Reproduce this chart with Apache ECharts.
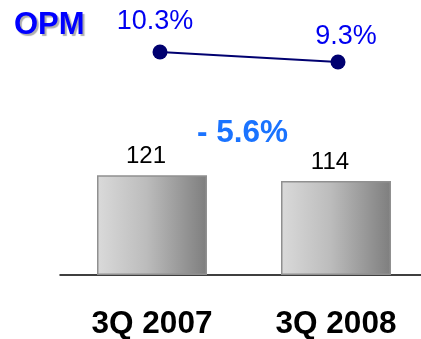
<!DOCTYPE html>
<html><head><meta charset="utf-8">
<script src="https://cdn.jsdelivr.net/npm/echarts@6/dist/echarts.min.js"></script>
<style>html,body{margin:0;padding:0;background:#fff}#c{width:421px;height:339px}</style>
</head><body><div id="c"></div>
<script>
const categories = ['3Q 2007', '3Q 2008'];
const barValues = [121, 114];
const opmValues = [10.3, 9.3];
const opmLabels = ['10.3%', '9.3%'];
const titleText = 'OPM';
const changeText = '- 5.6%';

const FONT = '"Liberation Sans", Arial, sans-serif';
const chart = echarts.init(document.getElementById('c'), null, {renderer: 'canvas'});
const labelOffsets = [[-5, 1], [8, 6]];
const opmData = opmValues.map((v, i) => ({
  value: v,
  label: {formatter: opmLabels[i], offset: labelOffsets[i]}
}));
chart.setOption({
  animation: false,
  grid: [
    {left: 60, width: 368, bottom: 64, height: 165, outerBoundsMode: 'none', containLabel: false},
    {left: 160, right: 83, top: 45, height: 20, outerBoundsMode: 'none'}
  ],
  xAxis: [
    {type: 'category', gridIndex: 0, data: categories,
     axisLine: {lineStyle: {color: '#000', width: 1.5}},
     axisTick: {show: false},
     axisLabel: {color: '#000', fontFamily: FONT, fontWeight: 'bold', fontSize: 31.5, margin: 33}},
    {type: 'category', gridIndex: 1, data: categories, boundaryGap: false, show: false}
  ],
  yAxis: [
    {type: 'value', gridIndex: 0, min: 0, max: 200, show: false, splitLine: {show: false}},
    {type: 'value', gridIndex: 1, min: 9, max: 11, show: false, splitLine: {show: false}}
  ],
  series: [
    {type: 'bar', xAxisIndex: 0, yAxisIndex: 0, data: barValues, barWidth: 110,
     itemStyle: {
       color: new echarts.graphic.LinearGradient(0, 0, 1, 0, [
         {offset: 0, color: '#dadada'}, {offset: 0.45, color: '#bcbcbc'}, {offset: 1, color: '#7e7e7e'}
       ]),
       borderColor: '#909090', borderWidth: 1.5
     },
     label: {show: true, position: 'top', distance: 7, offset: [-6, 0], color: '#000', fontFamily: FONT, fontSize: 24}},
    {type: 'line', xAxisIndex: 1, yAxisIndex: 1, data: opmData,
     symbol: 'circle', symbolSize: 15,
     lineStyle: {color: '#000070', width: 2},
     itemStyle: {color: '#000070'},
     label: {show: true, position: 'top', distance: 10, color: '#0000f0', fontFamily: FONT, fontSize: 27}}
  ],
  graphic: [
    {type: 'text', left: 14, top: 10,
     style: {text: titleText, fill: '#0000ff', font: 'bold 31px ' + FONT,
       textShadowColor: 'rgba(120,120,120,0.6)', textShadowOffsetX: 2, textShadowOffsetY: 2, textShadowBlur: 1}},
    {type: 'text', left: 197, top: 117,
     style: {text: changeText, fill: '#1a73ff', font: 'bold 31.5px ' + FONT}}
  ]
});
</script></body></html>
